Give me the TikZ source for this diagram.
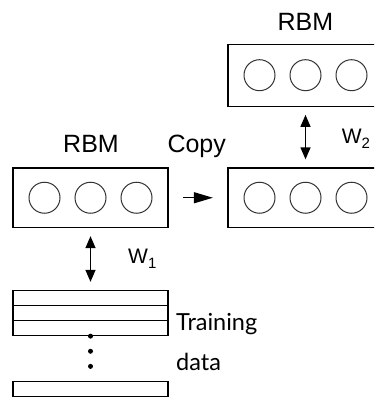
\documentclass[tikz,border=0pt]{standalone}
\usepackage{fontspec}
\setmainfont{Liberation Sans}
\newfontfamily\humanist{Lato}
\usetikzlibrary{arrows.meta}
\begin{document}
\begin{tikzpicture}[x=1pt,y=-1pt,
  layer/.style={draw, line width=1.3pt, minimum width=155pt, minimum height=59.5pt, inner sep=0pt},
  unit/.style={circle, draw=black!80, line width=1pt, minimum size=31pt, inner sep=0pt},
  datarow/.style={draw, line width=1.3pt, minimum width=155pt, minimum height=15pt, inner sep=0pt},
  lbl/.style={font=\fontsize{25}{28}\selectfont, inner sep=0pt, anchor=base},
  wlbl/.style={font=\fontsize{21}{24}\selectfont, inner sep=0pt, anchor=base west},
  txt/.style={font=\humanist\fontsize{23.5}{26}\selectfont, inner sep=0pt, anchor=base west},
  biarrow/.style={line width=1.3pt, {Triangle[length=12pt,width=10pt]}-{Triangle[length=12pt,width=10pt]}, shorten <=8pt, shorten >=8pt},
  copyarrow/.style={line width=1.3pt, -{Triangle[length=19pt,width=11pt]}, shorten <=14.5pt, shorten >=14.5pt},
  dotline/.style={line width=5pt, line cap=round, dash pattern=on 0pt off 15.1pt}
]
\clip (0,0) rectangle (374,398);

% two RBM layers side by side and the stacked one above
\node[layer] (rbmA) at (90.5,197.75) {};
\node[layer] (rbmB) at (305.5,197.75) {};
\node[layer, minimum height=62pt] (rbmC) at (305.5,75.2) {};

% hidden units in each layer
\foreach \b in {rbmA,rbmB,rbmC}{
  \node[unit] (\b-1) at ([xshift=-46pt]\b.center) {};
  \node[unit] (\b-2) at (\b.center) {};
  \node[unit] (\b-3) at ([xshift=46pt]\b.center) {};
}

% training data records
\node[datarow] (row1) at (90.5,298) {};
\node[datarow] (row2) at (90.5,313) {};
\node[datarow] (row3) at (90.5,328) {};
\node[datarow] (rowN) at (90.5,389) {};
\draw[dotline] (row3.south) -- (rowN.north);

% connectors
\draw[biarrow] (rbmA.south) -- (row1.north);
\draw[biarrow] (rbmC.south) -- (rbmB.north);
\draw[copyarrow] (rbmA.east) -- (rbmB.west);

% labels
\node[lbl] (tRBM) at (305.3,30.7) {RBM};
\node[lbl] (lRBM) at (91,152.3) {RBM};
\node[lbl] (copy) at (196.7,152.3) {Copy};
\node[wlbl] (w2) at (341.7,143.3) {W\raisebox{-5pt}{\fontsize{15}{15}\selectfont 2}};
\node[wlbl] (w1) at (128,263.3) {W\raisebox{-5pt}{\fontsize{15}{15}\selectfont 1}};
\node[txt] (train) at (176,330) {Training};
\node[txt] (data) at (176,370.7) {data};
\end{tikzpicture}
\end{document}
